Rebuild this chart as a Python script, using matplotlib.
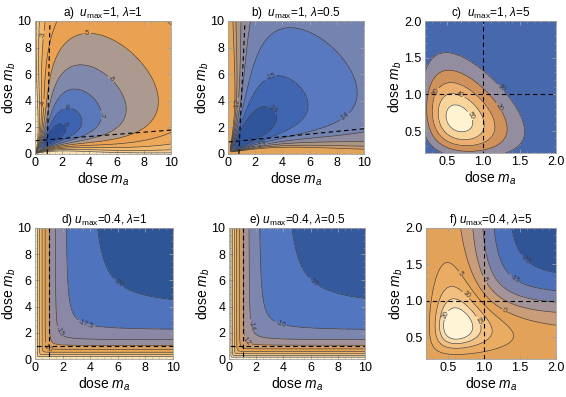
import numpy as np
import matplotlib.pyplot as plt
from matplotlib.ticker import MultipleLocator

plt.rcParams['font.family'] = ['Liberation Sans', 'DejaVu Sans']
plt.rcParams['mathtext.fontset'] = 'custom'
plt.rcParams['mathtext.rm'] = 'Liberation Sans'
plt.rcParams['mathtext.it'] = 'Liberation Sans:italic'
plt.rcParams['contour.negative_linestyle'] = 'solid'

# panel titles
titles = [r"a)  $u_{\rm max}$=1, $\lambda$=1", r"b)  $u_{\rm max}$=1, $\lambda$=0.5",
          r"c)  $u_{\rm max}$=1, $\lambda$=5", r"d) $u_{\rm max}$=0.4, $\lambda$=1",
          r"e) $u_{\rm max}$=0.4, $\lambda$=0.5", r"f) $u_{\rm max}$=0.4, $\lambda$=5"]

# dose ranges
range_wide = [0.0, 10.0]
range_narrow = [0.2, 2.0]

# contour levels (from the labels)
levels_a = [-9, -8, -7, -6, -5, -4, -3, -2, -1]
levels_b = [-16, -15, -14, -13, -12, -11, -10]
levels_c = [10, 20, 30, 40, 50]
levels_d = [-20, -17.5, -15, -12.5, -10, -7.5, -5, -2.5]
levels_e = [-18, -16, -14, -12, -10, -8, -6, -4, -2]
levels_f = [-20, -15, -10, -5, 0, 5, 10, 15, 20]

# surface parameters estimated from the contour positions
# valley: depth, rise, floor, decay, width0, width1, width scale
valley_a = [12.1, 0.8, 0.17, 12.0, 0.5, 5.0, 2.17]
valley_b = [18.8, 0.5, 0.65, 12.0, 0.1, 1.45, 3.9]
# plateau: depth, half dose, hill n, corner sharpness
plateau_d = [22.96, 0.9, 1.3, 6.0]
plateau_e = [20.2, 0.78, 1.3, 6.0]
# peak (sqrt dose scale): height, centre a, centre b, a, c, exponent
peak_c = [56.0, 0.66, 0.66, 9.5, 2.4, 1.0]
# peak (log dose scale) for f
peak_f = [28.0, 0.62, 0.66, 3.2, 0.0, 0.8]
# step (for f): depth, half dose, hill n, offset
step_f = [27.6, 1.0, 5.0, 2.0]

# dashed threshold lines: [x0, x1], [y0, y1]
dash_a = [[[0.9, 1.1], [0.0, 10.0]], [[0.0, 10.0], [1.0, 1.8]]]
dash_b = [[[0.8, 1.25], [0.0, 10.0]], [[0.0, 10.0], [0.9, 1.9]]]
dash_unit = [[[1.0, 1.0], [-1, 20]], [[-1, 20], [1.0, 1.0]]]

# band colours, low to high
cols_a = ['#2c4f98', '#3e63b0', '#5a78bc', '#8088ac', '#ac9a90', '#eaa152',
          '#eea85a', '#f2b86e', '#f6cb8c', '#fbe2b4']
cols_b = ['#30559a', '#4066b2', '#5878bf', '#7483b0', '#8f8a9e', '#ab9584',
          '#c99b6c', '#e3a45a']
cols_c = ['#4868ae', '#948da0', '#d0925c', '#ecae6e', '#f8d39a', '#fff3d2']
cols_d = ['#2e5596', '#5073be', '#8a88a6', '#958d9e', '#d9a060', '#e8a552',
          '#efb468', '#f5c888', '#fbe3b0']
cols_e = ['#34599c', '#5276c0', '#7d86ae', '#a09298', '#cf9c6c', '#e6a455',
          '#eeb264', '#f4c684', '#f9dcaa', '#fdf0d0']
cols_f = ['#2f5597', '#4b6fb8', '#7880ac', '#a4949a', '#c99c7a', '#e3a25a',
          '#eaab62', '#f2bf80', '#f9daa8', '#fff4d6']


def hill(x, K, n):
    return x**n / (x**n + K**n)


def valley(x, y, A, k1, c, k2, w0, w1, wL):
    t = x + y
    p = x / t
    depth = A * (1 - np.exp(-t / k1)) * (c + (1 - c) * np.exp(-t / k2))
    k = w0 + w1 * np.exp(-t / wL)
    return -depth * (4 * p * (1 - p)) ** k


def plateau(x, y, A, K, n, q):
    hx, hy = hill(x, K, n), hill(y, K, n)
    return -A * (hx**-q + hy**-q - 1) ** (-1 / q)


def bump(dx, dy, P, a, c, e):
    Q = a * (dx**2 + dy**2) + 2 * c * dx * dy
    return P * np.exp(-np.clip(Q, 0, None) ** e)


def peak_sqrt(x, y, P, x0, y0, a, c, e):
    return bump(np.sqrt(x) - np.sqrt(x0), np.sqrt(y) - np.sqrt(y0), P, a, c, e)


def peak_log(x, y, P, x0, y0, a, c, e):
    return bump(np.log(x / x0), np.log(y / y0), P, a, c, e)


def step(x, y, A, K, n, off):
    return -A * hill(x, K, n) * hill(y, K, n) + off


def grid(r):
    g = np.linspace(max(r[0], 1e-3), r[1], 400)
    return np.meshgrid(g, g)


def label_spots(ax, cs, box_px, margin=8, gap=15):
    # one spot per level, spread along its longest piece, away from edges
    x0, y0, x1, y1 = box_px
    spots, used = [], []
    for i, path in enumerate(cs.get_paths()):
        pieces = [p for p in path.to_polygons(closed_only=False) if len(p) > 4]
        if not pieces:
            continue
        px = [ax.transData.transform(p) for p in pieces]
        k = int(np.argmax([np.hypot(*np.diff(q, axis=0).T).sum() for q in px]))
        q = px[k]
        ok = ((q[:, 0] > x0 + margin) & (q[:, 0] < x1 - margin) &
              (q[:, 1] > y0 + margin) & (q[:, 1] < y1 - margin))
        idx = np.flatnonzero(ok)
        if len(idx) == 0:
            continue
        frac = [0.5, 0.3, 0.7][i % 3]
        for f in (frac, 0.5, 0.2, 0.8):
            j = idx[int(f * (len(idx) - 1))]
            if all(np.hypot(*(q[j] - u)) > gap for u in used):
                used.append(q[j])
                spots.append(pieces[k][j])
                break
    return spots


with np.errstate(all='ignore'):
    Xw, Yw = grid(range_wide)
    Xn, Yn = grid(range_narrow)
    Z_a = valley(Xw, Yw, *valley_a)
    Z_b = valley(Xw, Yw, *valley_b)
    Z_c = peak_sqrt(Xn, Yn, *peak_c)
    Z_d = plateau(Xw, Yw, *plateau_d)
    Z_e = plateau(Xw, Yw, *plateau_e)
    Z_f = peak_log(Xn, Yn, *peak_f) + step(Xn, Yn, *step_f)

panels = [
    (Xw, Yw, Z_a, levels_a, cols_a, dash_a, range_wide),
    (Xw, Yw, Z_b, levels_b, cols_b, dash_b, range_wide),
    (Xn, Yn, Z_c, levels_c, cols_c, dash_unit, range_narrow),
    (Xw, Yw, Z_d, levels_d, cols_d, dash_unit, range_wide),
    (Xw, Yw, Z_e, levels_e, cols_e, dash_unit, range_wide),
    (Xn, Yn, Z_f, levels_f, cols_f, dash_unit, range_narrow),
]

# axes boxes in pixels: left, top, width, height
boxes = [(35, 21, 136, 133), (228, 21, 136, 133), (425, 21, 131, 132),
         (35, 228, 138, 131), (229, 228, 136, 131), (426, 228, 130, 131)]

W, H = 566, 397
fig = plt.figure(figsize=(W / 100, H / 100), dpi=100)
frame = '#a0a0a0'

for (X, Y, Z, lev, cols, dashes, rng), box, title in zip(panels, boxes, titles):
    l, t, w, h = box
    ax = fig.add_axes([l / W, 1 - (t + h) / H, w / W, h / H])
    ax.set_xlim(rng)
    ax.set_ylim(rng)
    bounds = [-1e6] + lev + [1e6]
    ax.contourf(X, Y, Z, levels=bounds, colors=cols)
    cs = ax.contour(X, Y, Z, levels=lev, colors='#3a3a3a', linewidths=0.45)
    spots = label_spots(ax, cs, (l, H - t - h, l + w, H - t))
    if len(spots) >= 2:
        ax.clabel(cs, fontsize=5, fmt='%g', inline=True, inline_spacing=1,
                  manual=spots)
    else:
        ax.clabel(cs, fontsize=5, fmt='%g', inline=True, inline_spacing=1)

    for xs, ys in dashes:
        ax.plot(xs, ys, color='black', lw=0.8, ls=(0, (4, 3)))
    ax.set_xlim(rng)
    ax.set_ylim(rng)
    if rng[1] > 5:
        ax.xaxis.set_major_locator(MultipleLocator(2))
        ax.yaxis.set_major_locator(MultipleLocator(2))
        ax.xaxis.set_minor_locator(MultipleLocator(0.5))
        ax.yaxis.set_minor_locator(MultipleLocator(0.5))
    else:
        ax.xaxis.set_major_locator(MultipleLocator(0.5))
        ax.yaxis.set_major_locator(MultipleLocator(0.5))
        ax.xaxis.set_minor_locator(MultipleLocator(0.1))
        ax.yaxis.set_minor_locator(MultipleLocator(0.1))
    ax.tick_params(which='both', direction='in', top=True, right=True,
                   color=frame, labelsize=9, pad=2.5)
    ax.tick_params(which='major', length=3, width=0.6)
    ax.tick_params(which='minor', length=1.5, width=0.4)
    for s in ax.spines.values():
        s.set_color(frame)
        s.set_linewidth(0.6)
    ax.set_xlabel(r"dose $m_a$", fontsize=10, labelpad=1)
    ax.set_ylabel(r"dose $m_b$", fontsize=10, labelpad=0)
    ax.set_title(title, fontsize=8.5, pad=3)

fig.savefig('out.png', dpi=100)
